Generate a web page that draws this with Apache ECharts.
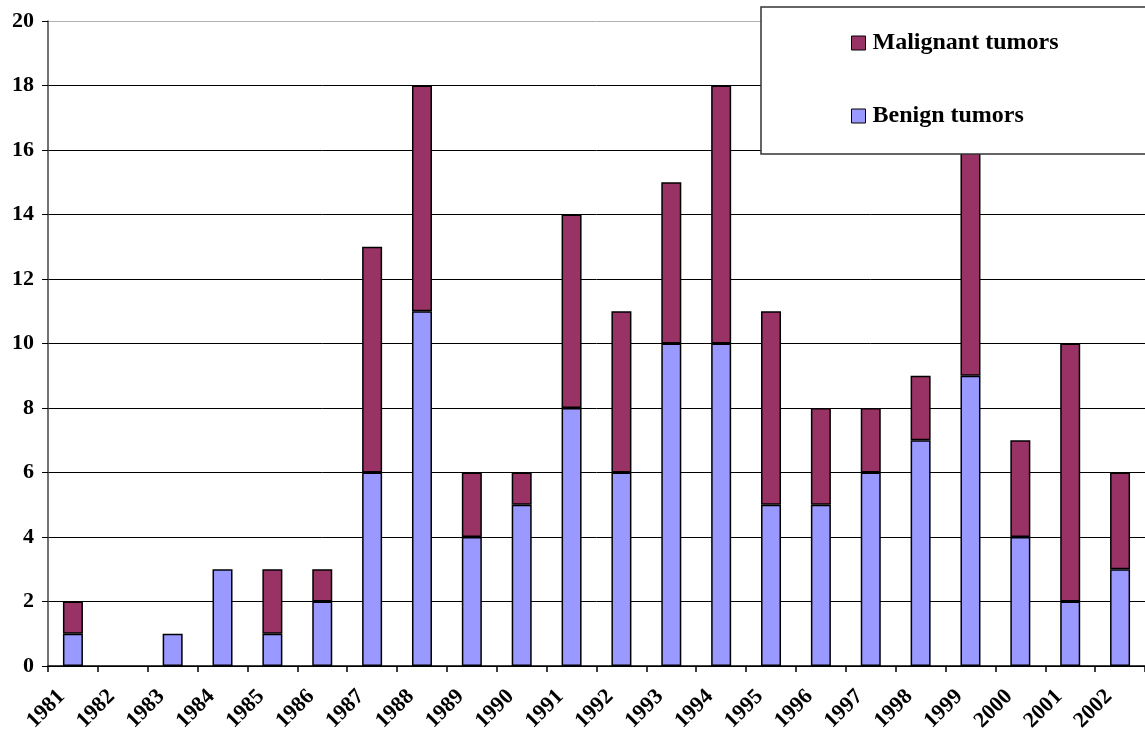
<!DOCTYPE html>
<html>
<head>
<meta charset="utf-8">
<title>Tumors by year</title>
<script src="https://cdn.jsdelivr.net/npm/echarts@6/dist/echarts.min.js"></script>
<style>
  html, body { margin: 0; padding: 0; background: #fff; }
  #chart { width: 1145px; height: 735px; }
</style>
</head>
<body>
<div id="chart"></div>
<script>
// Yearly case counts, stacked: benign at the base, malignant on top
const years = ['1981','1982','1983','1984','1985','1986','1987','1988','1989','1990','1991',
               '1992','1993','1994','1995','1996','1997','1998','1999','2000','2001','2002'];
const benign    = [1, 0, 1, 3, 1, 2, 6, 11, 4, 5, 8, 6, 10, 10, 5, 5, 6, 7, 9, 4, 2, 3];
const malignant = [1, 0, 0, 0, 2, 1, 7, 7, 2, 1, 6, 5, 5, 8, 6, 3, 2, 2, 8, 3, 8, 3];
const yTicks = [0, 2, 4, 6, 8, 10, 12, 14, 16, 18, 20];

const serif = '"Liberation Serif", "DejaVu Serif", serif';

// zero-count segments are left out so no flat outline is drawn
const segment = arr => arr.map(v => (v === 0 ? '-' : v));

const chart = echarts.init(document.getElementById('chart'), null, { renderer: 'canvas' });

chart.setOption({
  backgroundColor: '#ffffff',
  animation: false,
  grid: { left: 48, right: -12, top: 21, bottom: 69, containLabel: false },
  legend: {
    orient: 'vertical',
    left: 846,
    top: 26,
    itemWidth: 14,
    itemHeight: 14,
    itemGap: 49,
    icon: 'rect',
    z: 10,
    data: ['Malignant tumors', 'Benign tumors'],
    itemStyle: { borderColor: '#000', borderWidth: 1 },
    textStyle: {
      fontFamily: serif,
      fontWeight: 'bold',
      fontSize: 24,
      color: '#000',
      lineHeight: 22,
      height: 22,
      padding: [0, 0, 0, 2]
    }
  },
  graphic: [{
    type: 'rect',
    z: 5,
    shape: { x: 761, y: 7, width: 420, height: 147 },
    style: { fill: '#ffffff', stroke: '#333333', lineWidth: 1.5 }
  }],
  xAxis: {
    type: 'category',
    data: years,
    boundaryGap: true,
    axisLine: { show: true, lineStyle: { color: '#000', width: 1.5 } },
    axisTick: { show: true, length: 6, inside: false, lineStyle: { color: '#000', width: 1.5 } },
    axisLabel: {
      interval: 0,
      rotate: 45,
      margin: 16,
      padding: [0, 16, 0, 0],
      fontFamily: serif,
      fontWeight: 'bold',
      fontSize: 22,
      color: '#000'
    },
    splitLine: { show: false }
  },
  yAxis: {
    type: 'value',
    min: yTicks[0],
    max: yTicks[yTicks.length - 1],
    interval: 2,
    axisLine: { show: true, lineStyle: { color: '#444', width: 1.5 } },
    axisTick: { show: true, length: 6, lineStyle: { color: '#000', width: 1 } },
    axisLabel: {
      margin: 14,
      fontFamily: serif,
      fontWeight: 'bold',
      fontSize: 22,
      color: '#000',
      formatter: v => (yTicks.indexOf(v) >= 0 ? String(v) : '')
    },
    splitLine: {
      show: true,
      lineStyle: {
        color: ['#000', '#000', '#000', '#000', '#000', '#000', '#000', '#000', '#000', '#000', '#b0b0b0'],
        width: 1
      }
    }
  },
  series: [
    {
      name: 'Benign tumors',
      type: 'bar',
      stack: 'tumors',
      data: segment(benign),
      barWidth: 20,
      itemStyle: { color: '#9999FF', borderColor: '#000', borderWidth: 1.5 }
    },
    {
      name: 'Malignant tumors',
      type: 'bar',
      stack: 'tumors',
      data: segment(malignant),
      barWidth: 20,
      itemStyle: { color: '#993366', borderColor: '#000', borderWidth: 1.5 }
    }
  ]
});
</script>
</body>
</html>
